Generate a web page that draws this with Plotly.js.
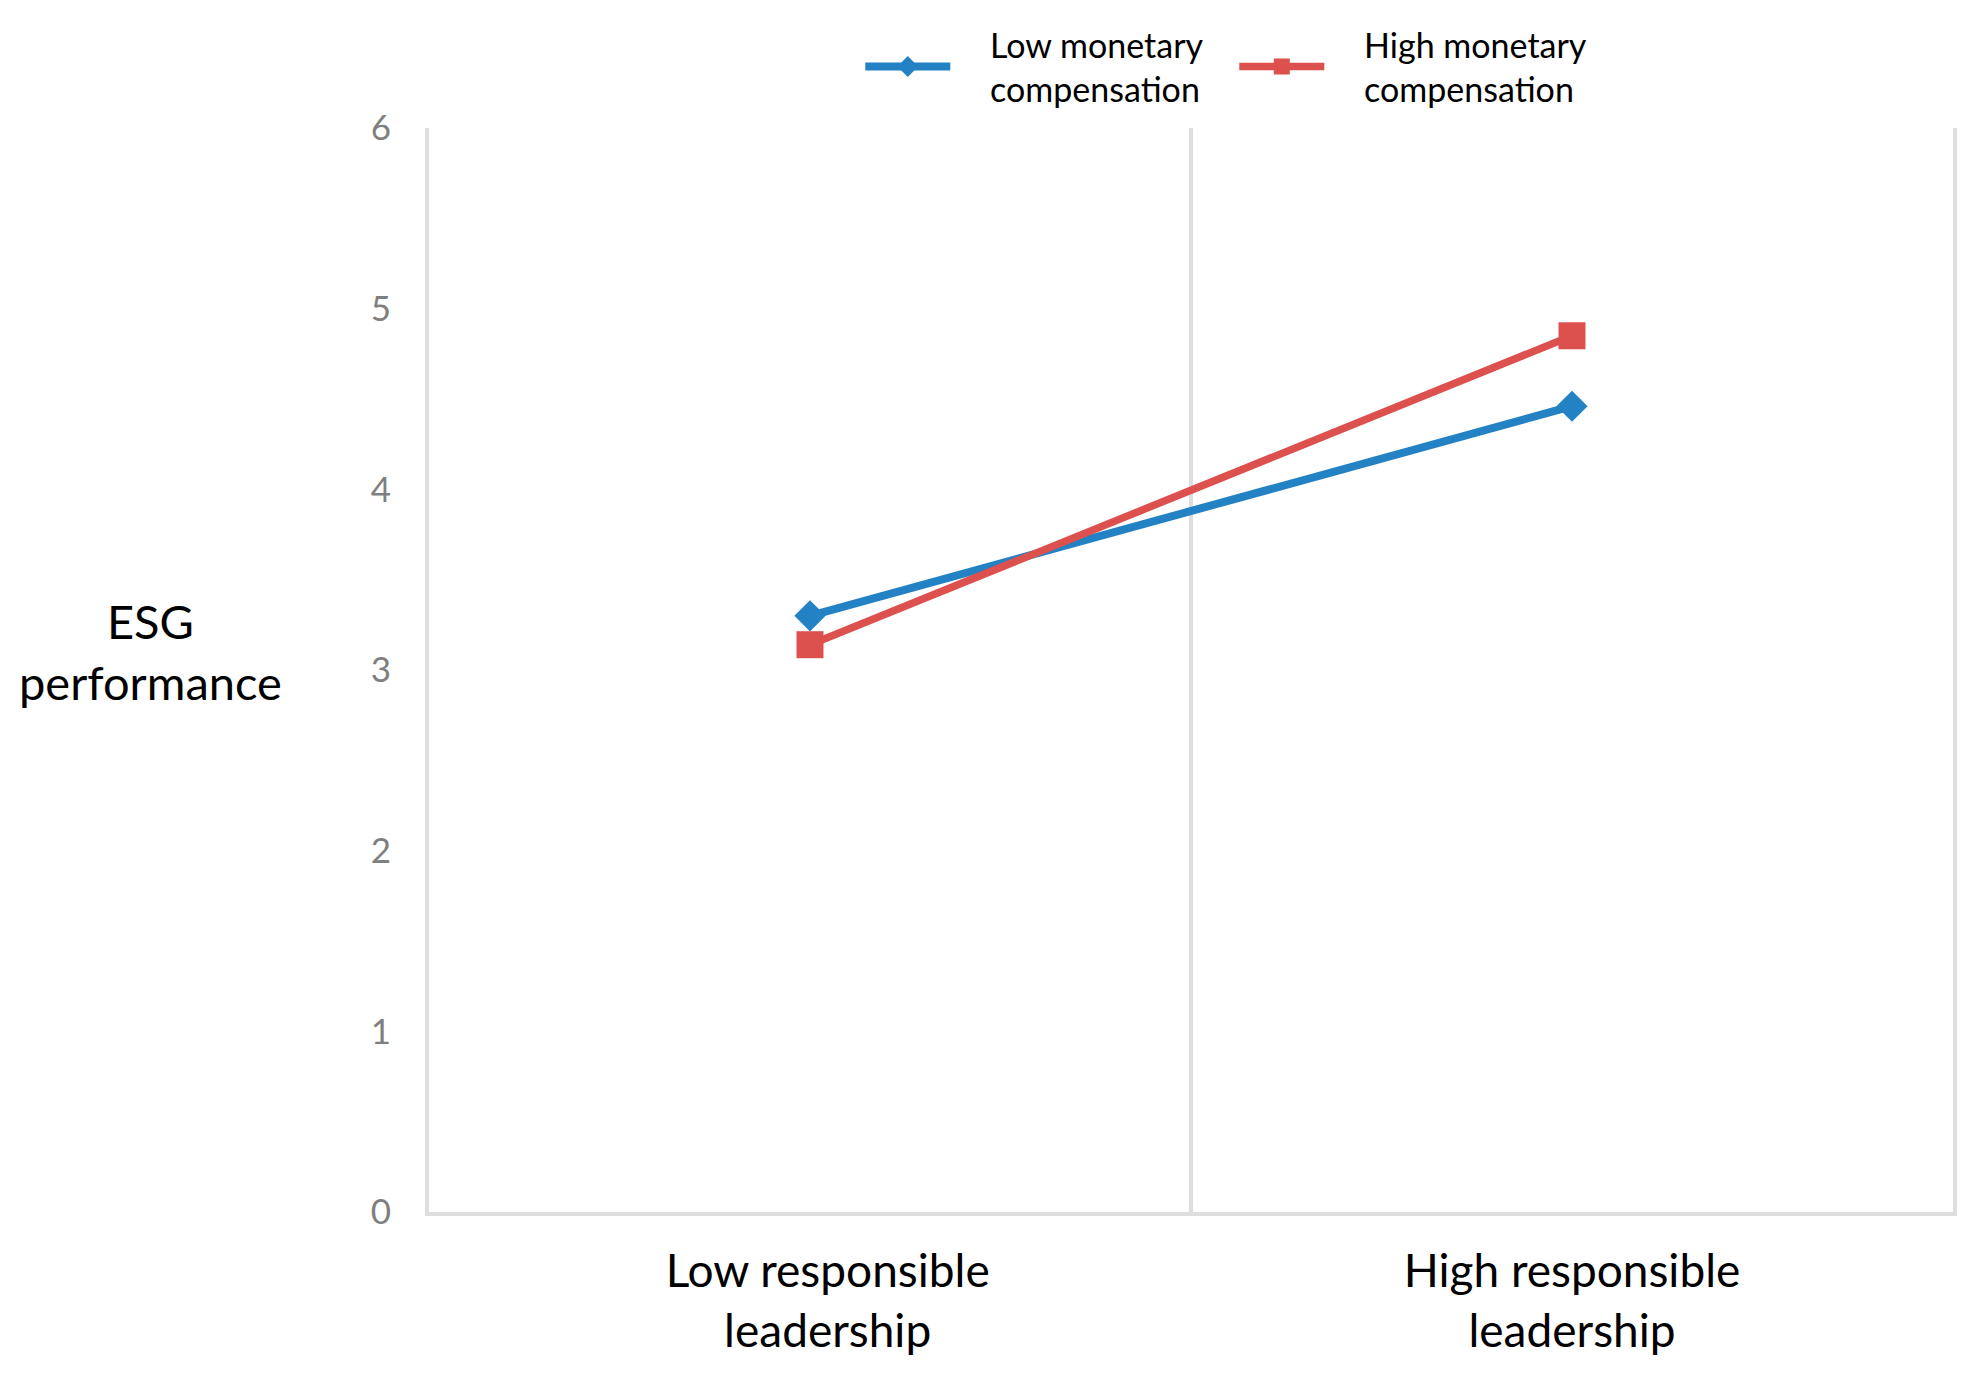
<!DOCTYPE html>
<html>
<head>
<meta charset="utf-8">
<script src="https://cdn.plot.ly/plotly-3.0.1.min.js"></script>
<style>
html,body{margin:0;padding:0;background:#fff;}
#chart{width:1979px;height:1386px;}
</style>
</head>
<body>
<div id="chart"></div>
<script>
var categories = ["Low responsible leadership", "High responsible leadership"];
var categoryLabels = ["&nbsp;&nbsp;&nbsp;Low responsible<br>&nbsp;&nbsp;&nbsp;leadership", "High responsible<br>leadership"];
var seriesNames = ["&nbsp;&nbsp;&nbsp;&nbsp;Low monetary<br>&nbsp;&nbsp;&nbsp;&nbsp;compensation", "&nbsp;&nbsp;&nbsp;&nbsp;High monetary<br>&nbsp;&nbsp;&nbsp;&nbsp;compensation"];
var lowMonetary = [3.30, 4.46];
var highMonetary = [3.14, 4.85];
var yTicks = [0, 1, 2, 3, 4, 5, 6];
var yTitle = "ESG<br>performance";

var FONT = "Lato, 'Open Sans', sans-serif";

var traces = [
  {
    type: "scatter", mode: "lines+markers",
    name: seriesNames[0],
    x: categories, y: lowMonetary,
    line: {color: "#2382c3", width: 8},
    marker: {symbol: "diamond", size: 24, color: "#2382c3"},
    cliponaxis: false
  },
  {
    type: "scatter", mode: "lines+markers",
    name: seriesNames[1],
    x: categories, y: highMonetary,
    line: {color: "#dc504e", width: 7.5},
    marker: {symbol: "square", size: 27, color: "#dc504e"},
    cliponaxis: false
  }
];

var layout = {
  width: 1979, height: 1386,
  paper_bgcolor: "#ffffff", plot_bgcolor: "#ffffff",
  margin: {l: 429, r: 26, t: 128, b: 174, autoexpand: false},
  font: {family: FONT, color: "#000"},
  showlegend: true,
  legend: {
    orientation: "h",
    x: 0.283, xanchor: "left",
    y: 1.1035, yanchor: "top",
    font: {family: FONT, size: 34, color: "#000"},
    itemwidth: 85,
    entrywidth: 274,
    entrywidthmode: "pixels",
    valign: "middle",
    bgcolor: "rgba(0,0,0,0)"
  },
  xaxis: {
    type: "category",
    range: [-0.5, 1.5],
    tickvals: categories,
    ticktext: categoryLabels,
    tickson: "boundaries",
    showgrid: true, gridcolor: "#dedede", gridwidth: 4,
    showline: true, linecolor: "#dedede", linewidth: 4,
    ticks: "",
    zeroline: false,
    tickfont: {family: FONT, size: 46, color: "#000"},
    ticklabelstandoff: 16,
    fixedrange: true
  },
  yaxis: {
    range: [0, 6],
    tickvals: yTicks,
    ticktext: yTicks.map(String),
    showgrid: false,
    zeroline: false,
    showline: true, linecolor: "#dedede", linewidth: 4,
    mirror: true,
    ticks: "",
    tickfont: {family: FONT, size: 35, color: "#7f7f7f"},
    ticklabelstandoff: 27,
    fixedrange: true
  },
  annotations: [
    {
      text: yTitle,
      xref: "paper", yref: "paper",
      x: -0.183, y: 0.517,
      xanchor: "center", yanchor: "middle",
      showarrow: false,
      font: {family: FONT, size: 47, color: "#000"},
      align: "center"
    }
  ]
};

Plotly.newPlot("chart", traces, layout, {displayModeBar: false, staticPlot: true});
</script>
</body>
</html>
